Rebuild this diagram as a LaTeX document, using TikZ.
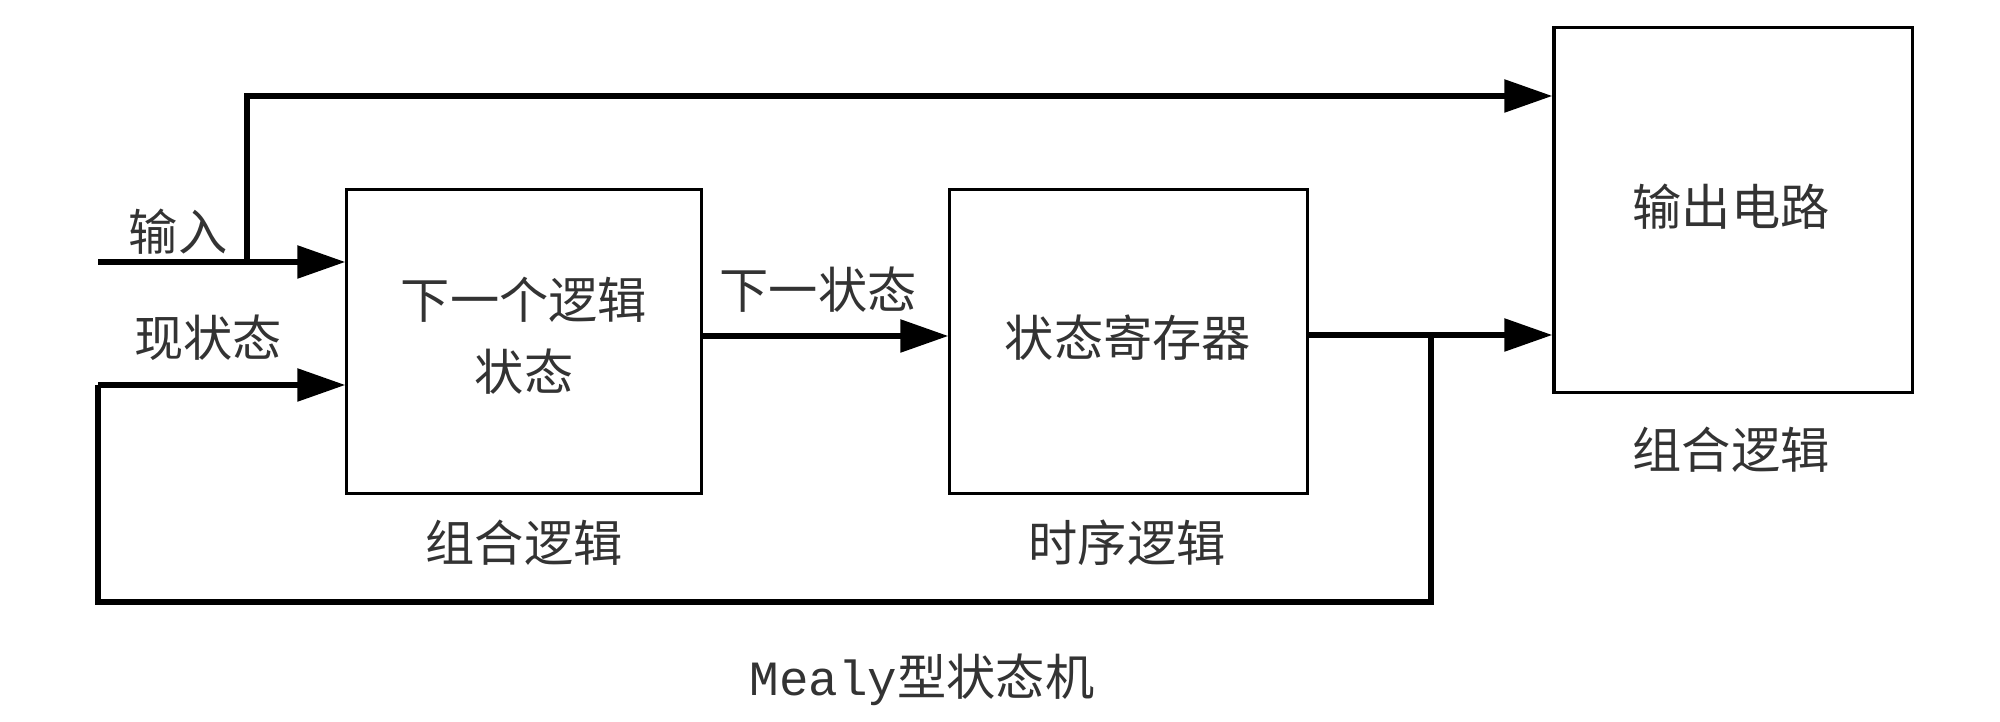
\documentclass[tikz,border=0pt]{standalone}
\usepackage{fontspec}
\setmainfont{Noto Sans CJK SC}
\newfontfamily\monofont{Liberation Mono}
\usetikzlibrary{arrows.meta}
\definecolor{txt}{HTML}{333333}
\tikzset{
  blk/.style={draw, line width=0.9pt, inner sep=0pt},
  wire/.style={line width=1.6pt},
  arr/.style={wire, -{Triangle[length=0.48cm,width=0.32cm]}},
  lbl/.style={text=txt, font=\fontsize{14pt}{17pt}\selectfont, inner sep=0pt, align=center},
}
\begin{document}
\begin{tikzpicture}[x=0.01cm,y=-0.01cm]
\useasboundingbox (0,0) rectangle (2000,722);
\node[blk, minimum width=3.54cm, minimum height=3.03cm] (b1) at (524,341.5) {};
\node[blk, minimum width=3.57cm, minimum height=3.03cm] (b2) at (1128.5,341.5) {};
\node[blk, minimum width=3.58cm, minimum height=3.64cm] (b3) at (1733,210) {};
\node[lbl] (t1) at (524,336) {下一个逻辑\\[0.12cm]状态};
\node[lbl] (t2) at (1128,338) {状态寄存器};
\node[lbl] (t3) at (1731,207) {输出电路};
\node[lbl] (c1) at (524,543) {组合逻辑};
\node[lbl] (c2) at (1127,543) {时序逻辑};
\node[lbl] (c3) at (1731,450) {组合逻辑};
\node[lbl] (in) at (178,232) {输入};
\node[lbl] (ps) at (208,338) {现状态};
\node[lbl] (ns) at (818,290) {下一状态};
\node[lbl, font=\fontsize{14pt}{17pt}\selectfont] (title) at (922,680) {{\monofont Mealy}型状态机};
% coordinates
\coordinate (inStart) at (98,262);
\coordinate (split) at (247,262);
\coordinate (tap) at (1431,335);
\coordinate (fbLeft) at (98,385);
% wires
\draw[arr] (inStart) -- (b1.west |- inStart);
\draw[arr] (split) |- (b3.west |- 0,96);
\draw[arr] (b1.east |- 0,336) -- (b2.west |- 0,336);
\draw[arr] (b2.east |- tap) -- (b3.west |- tap);
\draw[wire] (tap) -- (1431,602) -| (fbLeft);
\draw[arr] (fbLeft) -- (b1.west |- fbLeft);
\end{tikzpicture}
\end{document}
